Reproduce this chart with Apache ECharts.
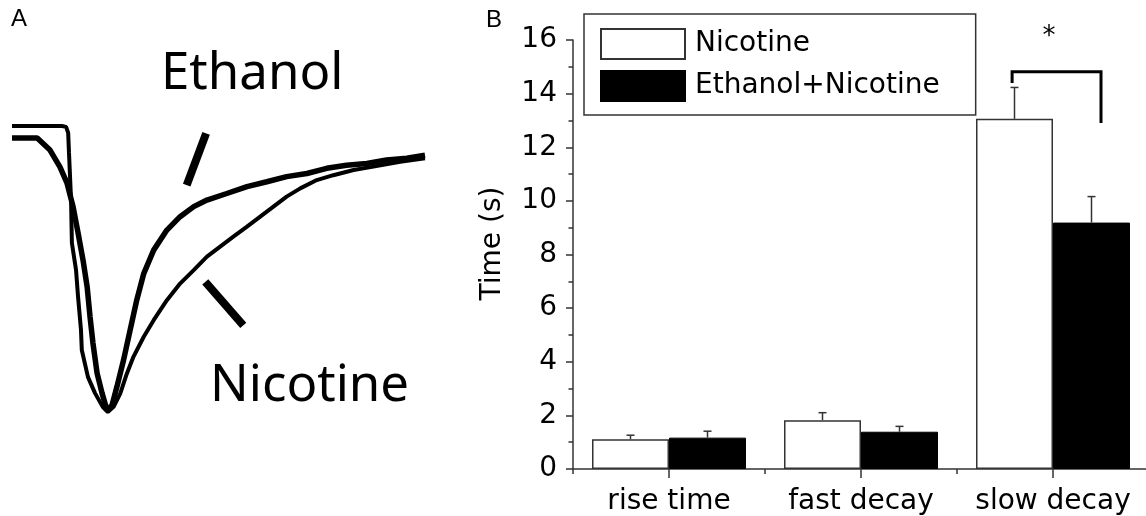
<!DOCTYPE html>
<html>
<head>
<meta charset="utf-8">
<script src="https://cdn.jsdelivr.net/npm/echarts@6/dist/echarts.min.js"></script>
<style>
  html, body { margin: 0; padding: 0; background: #fff; }
  #chart { width: 1146px; height: 516px; }
</style>
</head>
<body>
<div id="chart"></div>
<script>
  // panel A: normalised current traces (time in arbitrary units, peak = -1)
  const nicotineTime = [0, 12.1, 13.1, 13.6, 13.8, 14.3, 14.5, 15.5, 16.0, 16.7, 16.9, 18.4, 20.1, 22.0, 23.2, 24.6, 26.2, 27.8, 29.4, 31.9, 34.3, 37.5, 40.7, 44.0, 47.2, 50.4, 53.6, 56.9, 60.1, 63.3, 66.5, 69.8, 73.8, 77.8, 82.7, 87.5, 94.0, 100];
  const nicotineAmp = [0, 0, -0.003, -0.024, -0.094, -0.259, -0.409, -0.503, -0.598, -0.713, -0.783, -0.878, -0.934, -0.983, -1.0, -0.982, -0.936, -0.866, -0.807, -0.737, -0.679, -0.609, -0.551, -0.504, -0.457, -0.422, -0.387, -0.352, -0.317, -0.282, -0.247, -0.218, -0.189, -0.172, -0.154, -0.142, -0.125, -0.113];
  const ethanolTime = [0, 6.1, 9.2, 11.6, 13.3, 14.8, 16.0, 17.2, 18.2, 18.9, 19.6, 20.6, 21.8, 23.0, 24.2, 25.4, 27.0, 28.6, 30.2, 31.9, 34.3, 37.5, 40.7, 44.0, 47.2, 52.0, 56.9, 61.7, 66.5, 71.4, 76.2, 81.0, 85.9, 90.7, 95.6, 100];
  const ethanolAmp = [-0.042, -0.042, -0.084, -0.143, -0.199, -0.283, -0.374, -0.469, -0.563, -0.668, -0.759, -0.864, -0.934, -0.994, -0.977, -0.912, -0.819, -0.714, -0.609, -0.516, -0.434, -0.364, -0.317, -0.282, -0.259, -0.236, -0.212, -0.195, -0.177, -0.166, -0.148, -0.137, -0.131, -0.119, -0.113, -0.102];
  // pointer marks next to the trace labels
  const ethanolPointer = [[47.0, -0.026], [42.3, -0.207]];
  const nicotinePointer = [[46.8, -0.545], [56.0, -0.697]];

  // panel B: kinetics
  const categories = ["rise time", "fast decay", "slow decay"];
  const nicotineMean = [1.11, 1.82, 13.06];
  const nicotineSem = [0.15, 0.28, 1.17];
  const ethanolMean = [1.17, 1.39, 9.19];
  const ethanolSem = [0.24, 0.2, 0.97];
  const yTicks = [0, 2, 4, 6, 8, 10, 12, 14, 16];
  // significance bracket on slow decay: [category, top, left end, right end]
  const bracket = [[2, 14.82, 14.4, 12.9]];
  const starLabel = "*";

  const BAR_W = 77;
  const fontB = "DejaVu Sans";

  const zip = (xs, ys) => xs.map((x, i) => [x, ys[i]]);

  const errorSeries = (name, means, sems, side) => ({
    type: "custom",
    name: name + " err",
    xAxisIndex: 1,
    yAxisIndex: 1,
    z: 5,
    data: means.map((m, i) => [i, m, m + sems[i]]),
    renderItem: (params, api) => {
      const base = api.coord([api.value(0), api.value(1)]);
      const top = api.coord([api.value(0), api.value(2)]);
      const x = base[0] + side * BAR_W / 2;
      const style = { stroke: "#333", lineWidth: 1.5 };
      return {
        type: "group",
        children: [
          { type: "line", shape: { x1: x, y1: base[1], x2: x, y2: top[1] }, style },
          { type: "line", shape: { x1: x - 4, y1: top[1], x2: x + 4, y2: top[1] }, style }
        ]
      };
    }
  });

  const chart = echarts.init(document.getElementById("chart"));

  const option = {
    animation: false,
    backgroundColor: "#fff",
    graphic: [
      { type: "text", left: 11, top: 7, style: { text: "A", font: "24px 'Liberation Sans'", fill: "#000" } },
      { type: "text", left: 486, top: 8, style: { text: "B", font: "24px 'Liberation Sans'", fill: "#000" } },
      { type: "text", left: 161, top: 49, style: { text: "Ethanol", font: "51px 'Noto Sans'", fill: "#000" } },
      { type: "text", left: 210, top: 361, style: { text: "Nicotine", font: "51px 'Noto Sans'", fill: "#000" } }
    ],
    legend: {
      data: ["Nicotine", "Ethanol+Nicotine"],
      orient: "vertical",
      left: 584,
      top: 14,
      padding: [14, 36, 13, 16],
      itemWidth: 84,
      itemHeight: 30,
      itemGap: 10,
      icon: "rect",
      selectedMode: false,
      borderColor: "#333",
      borderWidth: 1.5,
      textStyle: { fontFamily: fontB, fontSize: 28, color: "#000", padding: [0, 0, 0, 5] }
    },
    grid: [
      { left: 12, top: 126, width: 413, height: 286, outerBoundsMode: "none" },
      { left: 573, top: 40, width: 576, height: 429, outerBoundsMode: "none" }
    ],
    xAxis: [
      { gridIndex: 0, type: "value", min: 0, max: 100, show: false },
      {
        gridIndex: 1,
        type: "category",
        data: categories,
        position: "bottom",
        axisLine: { show: true, lineStyle: { color: "#333", width: 1.5 } },
        axisTick: { show: true, alignWithLabel: true, length: 9, lineStyle: { color: "#333", width: 1.5 } },
        axisLabel: { interval: 0, hideOverlap: false, fontFamily: fontB, fontSize: 28, color: "#000", margin: 19 }
      },
      {
        gridIndex: 1,
        type: "category",
        data: categories,
        position: "bottom",
        axisLine: { show: false },
        axisTick: { show: true, length: 5, lineStyle: { color: "#333", width: 1.5 } },
        axisLabel: { show: false }
      }
    ],
    yAxis: [
      { gridIndex: 0, type: "value", min: -1, max: 0, show: false },
      {
        gridIndex: 1,
        type: "value",
        min: yTicks[0],
        max: yTicks[yTicks.length - 1],
        interval: 2,
        name: "Time (s)",
        nameLocation: "middle",
        nameGap: 66,
        nameTextStyle: { fontFamily: fontB, fontSize: 28, color: "#000", padding: [0, 0, 0, 22] },
        splitLine: { show: false },
        axisLine: { show: true, lineStyle: { color: "#333", width: 1.5 } },
        axisTick: { show: true, length: 7, lineStyle: { color: "#333", width: 1.5 } },
        minorTick: { show: true, splitNumber: 2, length: 4.5, lineStyle: { color: "#333", width: 1.5 } },
        axisLabel: { fontFamily: fontB, fontSize: 28, color: "#000", margin: 16 }
      }
    ],
    series: [
      {
        type: "line",
        name: "nicotine trace",
        xAxisIndex: 0,
        yAxisIndex: 0,
        data: zip(nicotineTime, nicotineAmp),
        showSymbol: false,
        clip: false,
        lineStyle: { color: "#000", width: 4 }
      },
      {
        type: "line",
        name: "ethanol trace",
        xAxisIndex: 0,
        yAxisIndex: 0,
        data: zip(ethanolTime, ethanolAmp),
        showSymbol: false,
        clip: false,
        lineStyle: { color: "#000", width: 5.5 }
      },
      {
        type: "line",
        name: "ethanol pointer",
        xAxisIndex: 0,
        yAxisIndex: 0,
        data: ethanolPointer,
        showSymbol: false,
        clip: false,
        lineStyle: { color: "#000", width: 8, cap: "butt" }
      },
      {
        type: "line",
        name: "nicotine pointer",
        xAxisIndex: 0,
        yAxisIndex: 0,
        data: nicotinePointer,
        showSymbol: false,
        clip: false,
        lineStyle: { color: "#000", width: 8, cap: "butt" }
      },
      {
        type: "bar",
        name: "Nicotine",
        xAxisIndex: 1,
        yAxisIndex: 1,
        data: nicotineMean,
        barWidth: BAR_W,
        barGap: "0%",
        itemStyle: { color: "#fff", borderColor: "#333", borderWidth: 1.5 }
      },
      {
        type: "bar",
        name: "Ethanol+Nicotine",
        xAxisIndex: 1,
        yAxisIndex: 1,
        data: ethanolMean,
        barWidth: BAR_W,
        barGap: "0%",
        itemStyle: { color: "#000", borderColor: "#000", borderWidth: 1 }
      },
      errorSeries("Nicotine", nicotineMean, nicotineSem, -1),
      errorSeries("Ethanol+Nicotine", ethanolMean, ethanolSem, 1),
      {
        type: "custom",
        name: "significance",
        xAxisIndex: 1,
        yAxisIndex: 1,
        clip: false,
        z: 6,
        data: bracket,
        renderItem: (params, api) => {
          const band = api.size([1, 0])[0];
          const c = api.coord([api.value(0), api.value(1)]);
          const xl = c[0] - band * 0.213;
          const xr = c[0] + band * 0.25;
          const yl = api.coord([api.value(0), api.value(2)])[1];
          const yr = api.coord([api.value(0), api.value(3)])[1];
          return {
            type: "group",
            children: [
              {
                type: "polyline",
                shape: { points: [[xl, yl], [xl, c[1]], [xr, c[1]], [xr, yr]] },
                style: { stroke: "#000", lineWidth: 3, fill: null }
              },
              {
                type: "text",
                x: c[0] - 4,
                y: c[1] - 34,
                style: { text: starLabel, font: "26px 'DejaVu Sans'", fill: "#000", align: "center", verticalAlign: "middle" }
              }
            ]
          };
        }
      }
    ]
  };

  chart.setOption(option);
  window.addEventListener("resize", () => chart.resize());
</script>
</body>
</html>
